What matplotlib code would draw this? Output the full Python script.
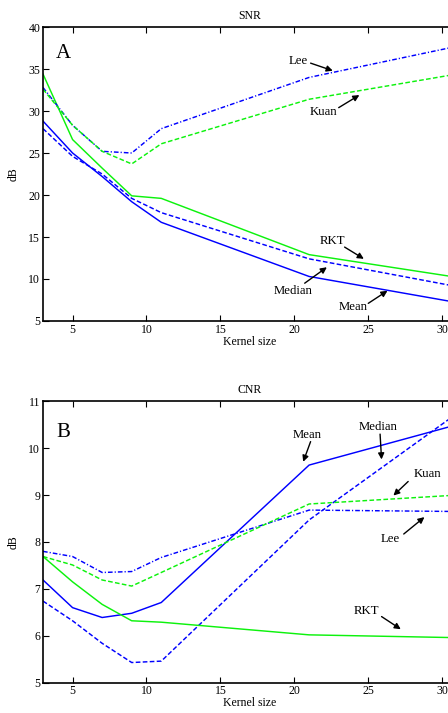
import numpy as np
import matplotlib
matplotlib.use("Agg")
import matplotlib.pyplot as plt

plt.rcParams['font.family'] = ['Liberation Serif', 'DejaVu Serif']

# ==========================================================
# DATA
# ==========================================================
kernel = [3, 5, 7, 9, 11, 21, 31]

snr_mean = [28.8, 25.0, 22.2, 19.2, 16.75, 10.3, 7.2]
snr_median = [27.9, 24.6, 22.5, 19.6, 17.9, 12.4, 9.1]
snr_rkt = [34.4, 26.6, 23.2, 19.9, 19.6, 12.9, 10.2]
snr_lee = [32.8, 28.3, 25.2, 25.0, 27.9, 34.0, 37.7]
snr_kuan = [32.6, 28.3, 25.2, 23.7, 26.1, 31.4, 34.4]

cnr_mean = [7.19, 6.60, 6.39, 6.48, 6.71, 9.64, 10.5]
cnr_median = [6.74, 6.32, 5.84, 5.43, 5.46, 8.47, 10.74]
cnr_rkt = [7.69, 7.15, 6.67, 6.32, 6.29, 6.02, 5.96]
cnr_lee = [7.80, 7.69, 7.35, 7.37, 7.67, 8.68, 8.65]
cnr_kuan = [7.69, 7.51, 7.19, 7.06, 7.35, 8.81, 9.0]

xticks = [5, 10, 15, 20, 25, 30]

BLUE = (0, 0, 1)
GREEN = (0.05, 0.95, 0.05)
DASH = (0, (3.2, 1.6))
DASHDOT = (0, (3.2, 1.4, 0.8, 1.4))
LW = 1.05


def style_axes(ax, ylim, yticks, title, letter, letter_pos):
    ax.set_xlim(3, 31)
    ax.set_ylim(*ylim)
    ax.set_xticks(xticks)
    ax.set_yticks(yticks)
    ax.tick_params(direction='in', top=True, right=True, labelsize=8.5,
                   length=4, width=0.8, pad=2)
    for s in ax.spines.values():
        s.set_linewidth(1.2)
    ax.set_title(title, fontsize=8.5, pad=6)
    ax.set_xlabel('Kernel size', fontsize=8.5, labelpad=0)
    ax.set_ylabel('dB', fontsize=8.5, labelpad=6)
    ax.text(letter_pos[0], letter_pos[1], letter, fontsize=15,
            ha='center', va='center')


def note(ax, label, txt, start, tip):
    ax.text(txt[0], txt[1], label, fontsize=9.2, ha='center', va='center')
    ax.annotate('', xy=tip, xytext=start,
                arrowprops=dict(arrowstyle='-|>', color='black', lw=1.0,
                                mutation_scale=9, shrinkA=0, shrinkB=0))


fig = plt.figure(figsize=(4.48, 7.13), dpi=100)

# ==========================================================
# SNR
# ==========================================================
ax1 = fig.add_axes([0.096, 0.5498, 0.924, 0.4123])
ax1.plot(kernel, snr_mean, '-', color=BLUE, lw=LW)
ax1.plot(kernel, snr_median, linestyle=DASH, color=BLUE, lw=LW)
ax1.plot(kernel, snr_rkt, '-', color=GREEN, lw=LW)
ax1.plot(kernel, snr_lee, linestyle=DASHDOT, color=BLUE, lw=LW)
ax1.plot(kernel, snr_kuan, linestyle=DASH, color=GREEN, lw=LW)
style_axes(ax1, (5, 40), [5, 10, 15, 20, 25, 30, 35, 40], 'SNR', 'A', (4.4, 36.9))

note(ax1, 'Lee', (20.3, 35.95), (21.1, 35.7), (22.6, 34.8))
note(ax1, 'Kuan', (22.0, 29.9), (23.0, 30.4), (24.4, 31.9))
note(ax1, 'RKT', (22.6, 14.5), (23.4, 13.8), (24.7, 12.4))
note(ax1, 'Median', (19.9, 8.6), (20.7, 9.5), (22.2, 11.4))
note(ax1, 'Mean', (24.0, 6.7), (25.0, 7.1), (26.3, 8.6))

# ==========================================================
# CNR
# ==========================================================
ax2 = fig.add_axes([0.096, 0.0425, 0.924, 0.3947])
ax2.plot(kernel, cnr_mean, '-', color=BLUE, lw=LW)
ax2.plot(kernel, cnr_median, linestyle=DASH, color=BLUE, lw=LW)
ax2.plot(kernel, cnr_rkt, '-', color=GREEN, lw=LW)
ax2.plot(kernel, cnr_lee, linestyle=DASHDOT, color=BLUE, lw=LW)
ax2.plot(kernel, cnr_kuan, linestyle=DASH, color=GREEN, lw=LW)
style_axes(ax2, (5, 11), [5, 6, 7, 8, 9, 10, 11], 'CNR', 'B', (4.4, 10.33))

note(ax2, 'Mean', (20.9, 10.28), (21.1, 10.14), (20.6, 9.71))
note(ax2, 'Median', (25.7, 10.46), (25.8, 10.3), (25.9, 9.76))
note(ax2, 'Kuan', (29.0, 9.45), (27.7, 9.29), (26.7, 8.99))
note(ax2, 'Lee', (26.5, 8.06), (27.4, 8.17), (28.8, 8.53))
note(ax2, 'RKT', (24.9, 6.53), (25.9, 6.41), (27.2, 6.14))

fig.savefig('out.png', dpi=100)
